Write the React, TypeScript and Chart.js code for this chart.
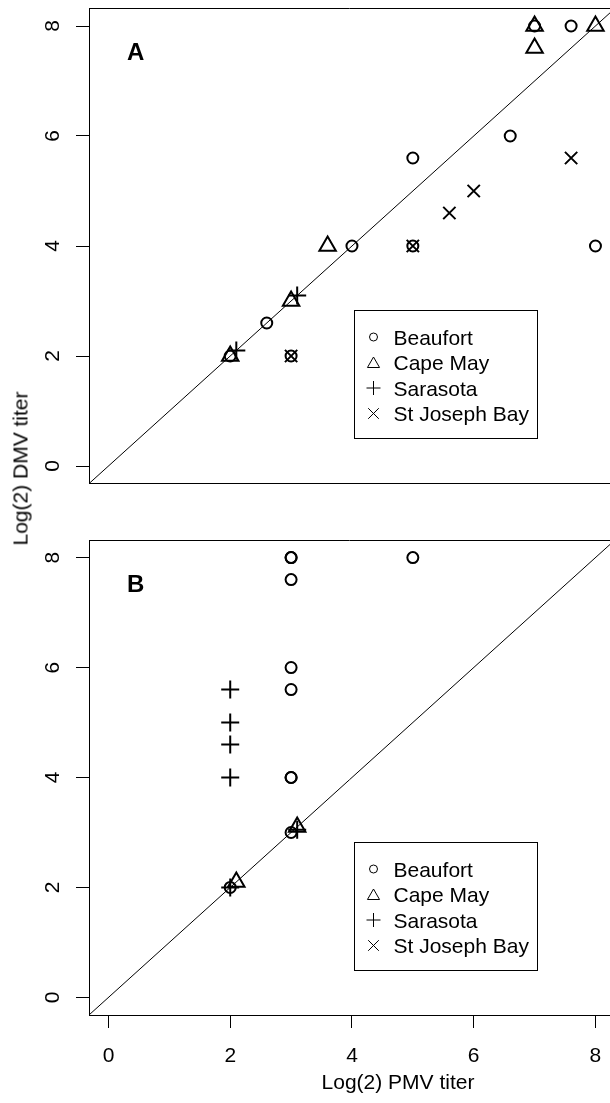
import React, { useEffect, useRef } from "react";
import { Chart, registerables } from "chart.js";

Chart.register(...registerables);

// ---------- data ----------
const TICK_VALUES = [0, 2, 4, 6, 8];
const TICK_LABELS = ["0", "2", "4", "6", "8"];
const SERIES_NAMES = ["Beaufort", "Cape May", "Sarasota", "St Joseph Bay"];
const PANEL_LABELS = ["A", "B"];
const X_TITLE = "Log(2) PMV titer";
const Y_TITLE = "Log(2) DMV titer";
const IDENTITY_LINE = [
  [-1, -1],
  [10, 10],
];

// Panel A  [PMV, DMV]
const A_BEAUFORT = [
  [7, 8], [7.6, 8], [6.6, 6], [5, 5.6], [4, 4], [5, 4], [8, 4], [2.6, 2.6], [3, 2], [2, 2],
];
const A_CAPE_MAY = [
  [7, 8], [8, 8], [7, 7.6], [3.6, 4], [3, 3], [2, 2],
];
const A_SARASOTA = [
  [2.1, 2.1], [3.1, 3.1],
];
const A_ST_JOSEPH = [
  [7.6, 5.6], [6, 5], [5.6, 4.6], [5, 4], [3, 2],
];

// Panel B  [PMV, DMV]
const B_BEAUFORT = [
  [3, 8], [3, 8], [5, 8], [3, 7.6], [3, 6], [3, 5.6], [3, 4], [3, 4], [3, 3], [2, 2],
];
const B_CAPE_MAY = [
  [2.1, 2.1], [3.1, 3.1],
];
const B_SARASOTA = [
  [2, 5.6], [2, 5], [2, 4.6], [2, 4], [2, 2], [3.1, 3.05],
];
const B_ST_JOSEPH: number[][] = [];

// ---------- styles ----------
const FONT = '"Liberation Sans", Arial, Helvetica, sans-serif';
const SYMBOLS = [
  { style: "circle", r: 5.5, lr: 4 },
  { style: "triangle", r: 9.5, lr: 7 },
  { style: "cross", r: 9, lr: 7 },
  { style: "crossRot", r: 8.7, lr: 7.5 },
];

function drawSymbol(ctx: CanvasRenderingContext2D, style: string, x: number, y: number, r: number) {
  ctx.beginPath();
  if (style === "circle") {
    ctx.arc(x, y, r, 0, Math.PI * 2);
  } else if (style === "triangle") {
    let a = 0;
    ctx.moveTo(x + Math.sin(a) * r, y - Math.cos(a) * r);
    a += (2 * Math.PI) / 3;
    ctx.lineTo(x + Math.sin(a) * r, y - Math.cos(a) * r);
    a += (2 * Math.PI) / 3;
    ctx.lineTo(x + Math.sin(a) * r, y - Math.cos(a) * r);
    ctx.closePath();
  } else if (style === "cross") {
    ctx.moveTo(x, y - r);
    ctx.lineTo(x, y + r);
    ctx.moveTo(x - r, y);
    ctx.lineTo(x + r, y);
  } else {
    const o = Math.cos(Math.PI / 4) * r;
    ctx.moveTo(x - o, y - o);
    ctx.lineTo(x + o, y + o);
    ctx.moveTo(x - o, y + o);
    ctx.lineTo(x + o, y - o);
  }
  ctx.stroke();
}

function decorPlugin(panelIndex: number) {
  const isBottom = panelIndex === 1;
  return {
    id: "decor" + panelIndex,
    afterDraw(chart: any) {
      const { ctx, chartArea } = chart;
      const { left, top, right, bottom } = chartArea;
      const yScale = chart.scales.y;
      const xScale = chart.scales.x;
      ctx.save();
      ctx.strokeStyle = "#000";
      ctx.fillStyle = "#000";
      ctx.lineWidth = 1;
      // top frame line
      ctx.beginPath();
      ctx.moveTo(left, Math.round(top) + 0.5);
      ctx.lineTo(chart.width, Math.round(top) + 0.5);
      ctx.stroke();

      // y tick labels (rotated)
      ctx.font = `21px ${FONT}`;
      ctx.textAlign = "center";
      ctx.textBaseline = "alphabetic";
      TICK_VALUES.forEach((v, i) => {
        const py = yScale.getPixelForValue(v);
        ctx.save();
        ctx.translate(left - 30, py);
        ctx.rotate(-Math.PI / 2);
        ctx.fillText(TICK_LABELS[i], 0, 0);
        ctx.restore();
      });

      if (isBottom) {
        TICK_VALUES.forEach((v, i) => {
          const px = xScale.getPixelForValue(v);
          ctx.fillText(TICK_LABELS[i], px, bottom + 47);
        });
        ctx.fillText(X_TITLE, 398, bottom + 74);
      }

      // panel label
      ctx.font = `bold 24px ${FONT}`;
      ctx.textAlign = "left";
      ctx.fillText(PANEL_LABELS[panelIndex], 127, top + 51.5);

      // legend
      const bx = 354.5;
      const by = Math.round(top + 302) + 0.5;
      ctx.strokeRect(bx, by, 183, 128);
      ctx.font = `21px ${FONT}`;
      SERIES_NAMES.forEach((name, i) => {
        const base = by + 34 + 25.5 * i;
        const sym = SYMBOLS[i];
        ctx.lineWidth = 1;
        drawSymbol(ctx, sym.style, 373.5, base - (sym.style === "triangle" ? 6 : 7.5), sym.lr);
        ctx.fillText(name, 393.5, base);
      });
      ctx.restore();
    },
  };
}

function buildConfig(panelIndex: number, series: number[][][]) {
  const isBottom = panelIndex === 1;
  const padTop = isBottom ? 40 : 8.4;
  const xAxisH = isBottom ? 88 : 16.4;
  const datasets: any[] = series.map((pts, i) => ({
    label: SERIES_NAMES[i],
    data: pts.map(([x, y]) => ({ x, y })),
    pointStyle: SYMBOLS[i].style,
    pointRadius: SYMBOLS[i].r,
    pointHoverRadius: SYMBOLS[i].r,
    pointBorderWidth: 2,
    borderColor: "#000",
    backgroundColor: "rgba(0,0,0,0)",
    pointBackgroundColor: "rgba(0,0,0,0)",
    showLine: false,
  }));
  datasets.push({
    label: "identity",
    data: IDENTITY_LINE.map(([x, y]) => ({ x, y })),
    showLine: true,
    borderColor: "#000",
    borderWidth: 1,
    pointRadius: 0,
    clip: 0,
  });
  return {
    type: "scatter",
    data: { datasets },
    options: {
      animation: false,
      responsive: false,
      devicePixelRatio: 1,
      events: [],
      layout: { autoPadding: false, padding: { top: padTop, left: 0, right: 0, bottom: 0 } },
      plugins: { legend: { display: false }, tooltip: { enabled: false } },
      scales: {
        x: {
          type: "linear",
          min: -0.32,
          max: 8.239,
          afterBuildTicks: (s: any) => {
            s.ticks = TICK_VALUES.map((v) => ({ value: v }));
          },
          afterFit: (s: any) => {
            s.height = xAxisH;
            s.paddingLeft = 0;
            s.paddingRight = 0;
            s.paddingTop = 0;
            s.paddingBottom = 0;
          },
          ticks: { display: false },
          grid: {
            display: true,
            drawOnChartArea: false,
            drawTicks: isBottom,
            tickLength: 13,
            color: "#000",
            lineWidth: 1,
          },
          border: { display: true, color: "#000", width: 1 },
        },
        y: {
          type: "linear",
          min: -0.32,
          max: 8.32,
          afterBuildTicks: (s: any) => {
            s.ticks = TICK_VALUES.map((v) => ({ value: v }));
          },
          afterFit: (s: any) => {
            s.width = 89;
            s.paddingLeft = 0;
            s.paddingRight = 0;
            s.paddingTop = 0;
            s.paddingBottom = 0;
          },
          ticks: { display: false },
          grid: {
            display: true,
            drawOnChartArea: false,
            drawTicks: true,
            tickLength: 13,
            color: "#000",
            lineWidth: 1,
          },
          border: { display: true, color: "#000", width: 1 },
        },
      },
    },
    plugins: [decorPlugin(panelIndex)],
  };
}

export default function App() {
  const refA = useRef<HTMLCanvasElement | null>(null);
  const refB = useRef<HTMLCanvasElement | null>(null);

  useEffect(() => {
    const cfgA: any = buildConfig(0, [A_BEAUFORT, A_CAPE_MAY, A_SARASOTA, A_ST_JOSEPH]);
    const cfgB: any = buildConfig(1, [B_BEAUFORT, B_CAPE_MAY, B_SARASOTA, B_ST_JOSEPH]);
    const a = new Chart(refA.current as HTMLCanvasElement, cfgA);
    const b = new Chart(refB.current as HTMLCanvasElement, cfgB);
    return () => {
      a.destroy();
      b.destroy();
    };
  }, []);

  return (
    <div
      style={{
        position: "absolute",
        left: 0,
        top: 0,
        width: 610,
        height: 1103,
        background: "#fff",
        overflow: "hidden",
      }}
    >
      <canvas
        ref={refA}
        width={610}
        height={500}
        style={{ position: "absolute", left: 0, top: 0, width: 610, height: 500 }}
      />
      <canvas
        ref={refB}
        width={610}
        height={603}
        style={{ position: "absolute", left: 0, top: 500, width: 610, height: 603 }}
      />
      <div
        style={{
          position: "absolute",
          left: 19.7 - 100,
          top: 468 - 10.5,
          width: 200,
          height: 21,
          lineHeight: "21px",
          fontSize: 21,
          fontFamily: FONT,
          color: "#000",
          textAlign: "center",
          whiteSpace: "nowrap",
          transform: "rotate(-90deg)",
          transformOrigin: "center center",
        }}
      >
        {Y_TITLE}
      </div>
    </div>
  );
}
